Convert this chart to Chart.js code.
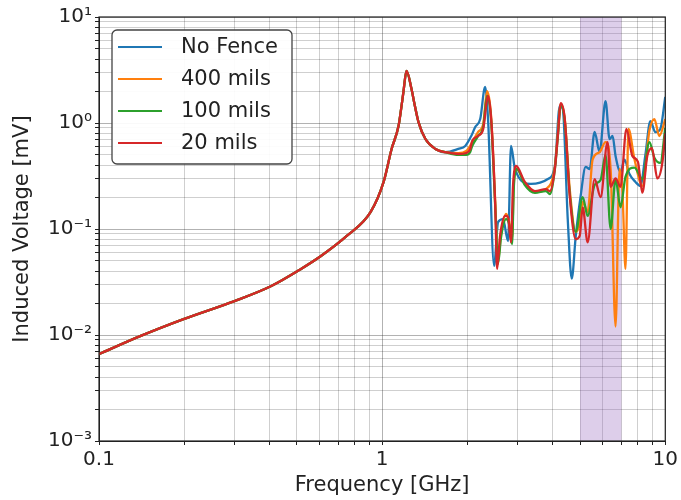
<!DOCTYPE html>
<html>
<head>
<meta charset="utf-8">
<script src="https://cdn.jsdelivr.net/npm/chart.js@4"></script>
<style>
  html, body { margin: 0; padding: 0; background: #fff; }
</style>
</head>
<body>
<canvas id="grafik" width="681" height="500"></canvas>
<script>
// nama seri & nilai (GHz, mV)
const seriesNames = ['No Fence', '400 mils', '100 mils', '20 mils'];

// bagian bawah (< 1.7 GHz) sama untuk semua seri
const baseFreq = [0.1, 0.139, 0.2, 0.301, 0.406, 0.517, 0.608, 0.75, 0.911, 1.012, 1.08, 1.143, 1.171, 1.19, 1.219, 1.27, 1.301, 1.344, 1.422, 1.542, 1.672];
const baseVolt = [0.0066, 0.0097, 0.0142, 0.0209, 0.029, 0.042, 0.0556, 0.086, 0.145, 0.278, 0.569, 0.94, 1.45, 2.0, 3.1, 2.09, 1.51, 1.02, 0.706, 0.569, 0.53];

const blueFreq = [1.858, 1.966, 2.064, 2.132, 2.22, 2.311, 2.366, 2.486, 2.567, 2.673, 2.784, 2.852, 2.946, 3.354, 3.849, 4.074, 4.24, 4.345, 4.524, 4.673, 4.829, 5.025, 5.234, 5.407, 5.63, 5.861, 6.152, 6.357, 6.513, 6.674, 6.949, 7.177, 7.473, 7.847, 8.17, 8.506, 8.857, 9.226, 9.605, 10];
const blueVolt = [0.569, 0.607, 0.754, 0.917, 1.09, 2.19, 1.09, 0.045, 0.116, 0.124, 0.077, 0.607, 0.368, 0.266, 0.296, 0.393, 1.45, 1.36, 0.124, 0.034, 0.086, 0.205, 0.385, 0.368, 0.823, 0.533, 1.61, 0.706, 0.754, 0.489, 0.345, 0.45, 0.33, 0.278, 0.255, 0.5, 1.04, 0.82, 0.878, 1.76];

const orangeFreq = [1.858, 1.982, 2.064, 2.183, 2.275, 2.348, 2.427, 2.506, 2.567, 2.63, 2.74, 2.806, 2.875, 2.922, 2.994, 3.192, 3.465, 3.787, 4.074, 4.173, 4.275, 4.416, 4.598, 4.829, 4.986, 5.109, 5.319, 5.537, 5.861, 6.152, 6.412, 6.674, 6.893, 7.063, 7.235, 7.413, 7.781, 8.299, 8.79, 9.15, 9.527, 10];
const orangeVolt = [0.52, 0.545, 0.634, 0.823, 0.978, 2.0, 1.14, 0.192, 0.05, 0.09, 0.139, 0.119, 0.081, 0.296, 0.368, 0.266, 0.223, 0.238, 0.385, 0.787, 1.51, 1.09, 0.238, 0.094, 0.112, 0.18, 0.145, 0.45, 0.53, 0.66, 0.368, 0.012, 0.368, 0.22, 0.042, 0.878, 0.458, 0.255, 0.85, 1.09, 0.754, 1.09];

const greenFreq = [1.858, 1.982, 2.047, 2.08, 2.183, 2.275, 2.348, 2.427, 2.506, 2.567, 2.63, 2.74, 2.806, 2.875, 2.922, 2.994, 3.192, 3.465, 3.787, 3.912, 4.074, 4.173, 4.275, 4.416, 4.598, 4.829, 5.109, 5.319, 5.63, 5.91, 6.152, 6.412, 6.674, 6.949, 7.235, 7.781, 8.299, 8.79, 9.15, 9.605, 10];
const greenVolt = [0.5, 0.5, 0.533, 0.607, 0.754, 0.917, 1.8, 1.04, 0.172, 0.047, 0.084, 0.124, 0.112, 0.072, 0.266, 0.368, 0.26, 0.219, 0.228, 0.214, 0.368, 0.738, 1.48, 1.04, 0.214, 0.094, 0.2, 0.133, 0.26, 0.29, 0.5, 0.1, 0.296, 0.16, 0.31, 0.38, 0.296, 0.66, 0.47, 0.42, 0.9];

const redFreq = [1.858, 1.982, 2.047, 2.08, 2.183, 2.275, 2.366, 2.427, 2.506, 2.547, 2.609, 2.718, 2.784, 2.852, 2.899, 2.971, 3.192, 3.465, 3.787, 3.912, 4.074, 4.173, 4.275, 4.416, 4.598, 4.829, 4.986, 5.109, 5.319, 5.63, 5.91, 6.252, 6.412, 6.674, 6.949, 7.291, 7.65, 8.006, 8.299, 8.64, 8.97, 9.376, 9.775, 10];
const redVolt = [0.51, 0.521, 0.569, 0.676, 0.754, 0.878, 1.8, 1.09, 0.18, 0.042, 0.086, 0.133, 0.13, 0.075, 0.255, 0.393, 0.278, 0.228, 0.238, 0.228, 0.368, 0.754, 1.54, 1.09, 0.205, 0.08, 0.086, 0.16, 0.075, 0.296, 0.2, 0.66, 0.25, 0.3, 0.25, 0.88, 0.49, 0.43, 0.22, 0.49, 0.58, 0.3, 0.43, 0.8];

// pita frekuensi yang diarsir (GHz)
const bandRange = [5, 7];

const xTickLabels = ['0.1', '1', '10'];
const yTickLabels = ['10⁻³', '10⁻²', '10⁻¹', '10⁰', '10¹'];

const warna = ['#1f77b4', '#ff7f0e', '#2ca02c', '#d62728'];

function gabung(f, v) {
    const fs = baseFreq.concat(f);
    const vs = baseVolt.concat(v);
    return fs.map((x, i) => ({ x: x, y: vs[i] }));
}

function isDekade(v) {
    const l = Math.log10(v);
    return Math.abs(l - Math.round(l)) < 1e-6;
}

function tickLog(eLo, eHi) {
    const t = [];
    for (let e = eLo; e < eHi; e++) {
        for (let m = 1; m < 10; m++) t.push({ value: m * Math.pow(10, e) });
    }
    t.push({ value: Math.pow(10, eHi) });
    return t;
}

const warnaGrid = ctx => (ctx.tick && isDekade(ctx.tick.value)) ? 'rgba(0,0,0,0.30)' : 'rgba(0,0,0,0.19)';

// arsiran 5-7 GHz
const pitaPlugin = {
    id: 'pita',
    beforeDatasetsDraw(chart) {
        const { ctx, chartArea, scales } = chart;
        const x1 = scales.x.getPixelForValue(bandRange[0]);
        const x2 = scales.x.getPixelForValue(bandRange[1]);
        ctx.save();
        ctx.fillStyle = 'rgba(148,103,189,0.32)';
        ctx.fillRect(x1, chartArea.top, x2 - x1, chartArea.bottom - chartArea.top);
        ctx.restore();
    }
};

// bingkai + legenda di dalam plot
const bingkaiPlugin = {
    id: 'bingkai',
    afterDraw(chart) {
        const { ctx, chartArea } = chart;
        ctx.save();
        ctx.strokeStyle = '#222';
        ctx.lineWidth = 1.2;
        ctx.strokeRect(chartArea.left, chartArea.top, chartArea.right - chartArea.left, chartArea.bottom - chartArea.top);

        ctx.fillStyle = 'rgba(255,255,255,0.92)';
        ctx.strokeStyle = '#444';
        ctx.lineWidth = 1.3;
        ctx.beginPath();
        ctx.roundRect(112, 30, 180, 134, 5);
        ctx.fill();
        ctx.stroke();

        ctx.font = '21px "DejaVu Sans"';
        ctx.textBaseline = 'middle';
        chart.data.datasets.forEach((ds, i) => {
            const y = 47 + i * 32;
            ctx.strokeStyle = ds.borderColor;
            ctx.lineWidth = 2;
            ctx.beginPath();
            ctx.moveTo(118, y);
            ctx.lineTo(162, y);
            ctx.stroke();
            ctx.fillStyle = '#222';
            ctx.fillText(ds.label, 181, y + 1);
        });
        ctx.restore();
    }
};

Chart.defaults.font.family = '"DejaVu Sans", sans-serif';
Chart.defaults.color = '#222';

const semuaFreq = [blueFreq, orangeFreq, greenFreq, redFreq];
const semuaVolt = [blueVolt, orangeVolt, greenVolt, redVolt];

const grafik = new Chart(document.getElementById('grafik'), {
    type: 'line',
    data: {
        datasets: seriesNames.map((nama, i) => ({
            label: nama,
            data: gabung(semuaFreq[i], semuaVolt[i]),
            borderColor: warna[i],
            borderWidth: 2.3,
            pointRadius: 0,
            cubicInterpolationMode: 'monotone',
            fill: false,
            order: 4 - i
        }))
    },
    options: {
        responsive: false,
        animation: false,
        layout: { padding: { left: 0, right: 13, top: 17, bottom: 0 } },
        plugins: {
            legend: { display: false },
            tooltip: { enabled: false }
        },
        scales: {
            x: {
                type: 'logarithmic',
                min: 0.1,
                max: 10,
                afterBuildTicks: s => { s.ticks = tickLog(-1, 1); },
                afterFit: s => { s.height = 59; },
                grid: { color: warnaGrid, tickColor: '#222', tickLength: 4 },
                border: { color: '#222' },
                ticks: {
                    autoSkip: false,
                    maxRotation: 0,
                    padding: 3,
                    font: { size: 20 },
                    callback: v => isDekade(v) ? xTickLabels[Math.round(Math.log10(v)) + 1] : ''
                },
                title: {
                    display: true,
                    text: 'Frequency [GHz]',
                    font: { size: 21 },
                    padding: { top: 0, bottom: 2 }
                }
            },
            y: {
                type: 'logarithmic',
                min: 0.001,
                max: 10,
                afterBuildTicks: s => { s.ticks = tickLog(-3, 1); },
                afterFit: s => { s.width = 99; },
                grid: { color: warnaGrid, tickColor: '#222', tickLength: 4 },
                border: { color: '#222' },
                ticks: {
                    autoSkip: false,
                    padding: 3,
                    font: { size: 20 },
                    callback: v => isDekade(v) ? yTickLabels[Math.round(Math.log10(v)) + 3] : ''
                },
                title: {
                    display: true,
                    text: 'Induced Voltage [mV]',
                    font: { size: 21 },
                    padding: { top: 10, bottom: 0 }
                }
            }
        }
    },
    plugins: [pitaPlugin, bingkaiPlugin]
});
</script>
</body>
</html>
